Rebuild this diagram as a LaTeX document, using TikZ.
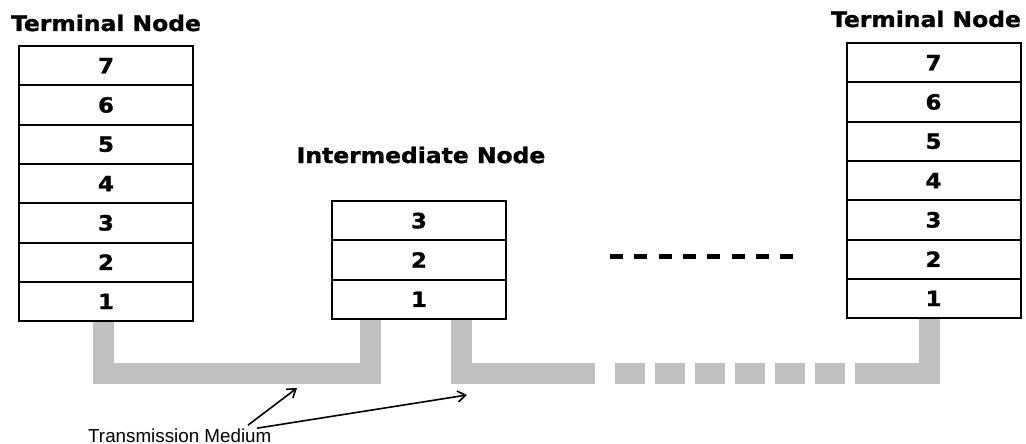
\documentclass[tikz,border=0pt]{standalone}
\usepackage{fontspec}
\setmainfont{Liberation Sans}
\newfontfamily\headfont{DejaVu Sans Bold}[FakeStretch=1.09,FakeBold=1.2]
\usetikzlibrary{arrows.meta}
\definecolor{mediumgray}{RGB}{192,192,192}
\tikzset{
  layer/.style={draw, line width=2pt, minimum width=174pt, minimum height=39.3pt,
    inner sep=0pt, font=\headfont\fontsize{21}{21}\selectfont},
  title/.style={anchor=base, inner sep=0pt, font=\headfont\fontsize{21.5}{21.5}\selectfont},
  medium/.style={draw=mediumgray, line width=21pt, line join=miter},
  pointer/.style={-{Straight Barb[length=8pt,width=11pt]}, line width=1.6pt},
}
\begin{document}
\begin{tikzpicture}[x=1pt,y=-1pt]
  \useasboundingbox (0,0) rectangle (1026,444);
  % layer stacks
  \foreach \n [count=\k from 0] in {7,...,1}
    \node[layer] (L\n) at (106, 65.65+39.3*\k) {\n};
  \foreach \n [count=\k from 0] in {3,...,1}
    \node[layer] (I\n) at (419, 220.65+39.3*\k) {\n};
  \foreach \n [count=\k from 0] in {7,...,1}
    \node[layer] (R\n) at (933.5, 62.65+39.3*\k) {\n};
  \node[title] (titleL) at ([yshift=14pt]L7.north) {Terminal Node};
  \node[title] (titleI) at ([xshift=2pt,yshift=37pt]I3.north) {Intermediate Node};
  \node[title] (titleR) at ([xshift=-7.5pt,yshift=15pt]R7.north) {Terminal Node};
  % transmission medium
  \coordinate (tapL) at ([xshift=-2.5pt]L1.south);
  \coordinate (tapA) at ([xshift=39.5pt]I1.south west);
  \coordinate (tapB) at ([xshift=130pt]I1.south west);
  \coordinate (tapR) at ([xshift=-4pt]R1.south);
  \draw[medium] (tapL) -- ++(0,51) -| (tapA);
  \draw[medium, dash pattern=on 187.35pt off 20pt on 30pt off 10pt on 30pt off 10pt
    on 30pt off 10pt on 30pt off 10pt on 30pt off 10pt on 30pt off 10pt on 140pt]
    (tapB) -- ++(0,53.35) -| (tapR);
  \draw[line width=5pt, dash pattern=on 13pt off 11.3pt] (610,256) -- (794,256);
  % label
  \node[anchor=base west, inner sep=0pt, font=\fontsize{18.8}{18.8}\selectfont]
    (tm) at (88,442) {Transmission Medium};
  \coordinate (gapA) at (297,388);
  \coordinate (gapB) at (467,395);
  \draw[pointer] ([xshift=160pt,yshift=3pt]tm.north west) -- (gapA);
  \draw[pointer] ([xshift=169pt]tm.north west) -- (gapB);
\end{tikzpicture}
\end{document}
